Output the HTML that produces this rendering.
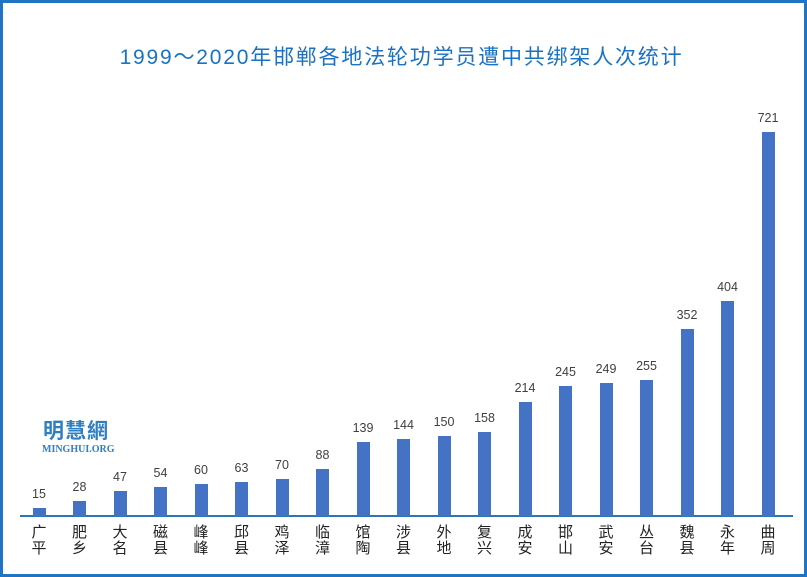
<!DOCTYPE html>
<html><head><meta charset="utf-8"><style>
body{margin:0;background:#fff}
#c{position:relative;width:801px;height:571px;border:3px solid #1f74c4;overflow:hidden;font-family:"Liberation Sans","Noto Sans CJK SC",sans-serif}
.t{position:absolute;top:38px;left:-5px;width:807px;text-align:center;font-size:21px;color:#1a72c2;letter-spacing:1.8px}
.b{position:absolute;width:13px;background:#4472c4}
.v{position:absolute;width:50px;text-align:center;font-size:12.5px;color:#404040}
.l{position:absolute;width:30px;text-align:center;font-size:15px;line-height:16px;color:#222;top:522px}
.base{position:absolute;left:17px;top:512px;width:773px;height:2px;background:#2e75b6}
</style></head><body><div id="c">
<div class="t">1999～2020年邯郸各地法轮功学员遭中共绑架人次统计</div>
<div style="position:absolute;left:40px;top:412px;font-size:21px;font-weight:bold;color:#2f7fc1;letter-spacing:1px">明慧網</div>
<div style="position:absolute;left:39px;top:441px;font-size:10px;font-weight:bold;color:#2f7fc1;font-family:'Liberation Serif',serif">MINGHUI.ORG</div>
<div class="base"></div>
<div id="bars"></div>
</div>
<script>
var d=[["广平",15],["肥乡",28],["大名",47],["磁县",54],["峰峰",60],["邱县",63],["鸡泽",70],["临漳",88],["馆陶",139],["涉县",144],["外地",150],["复兴",158],["成安",214],["邯山",245],["武安",249],["丛台",255],["魏县",352],["永年",404],["曲周",721]];
var h="";
d.forEach(function(e,i){
 var cx=36+i*40.5, ht=e[1]*0.5326, top=513-ht;
 h+='<div class="b" style="left:'+(cx-6.5)+'px;top:'+top+'px;height:'+ht+'px"></div>';
 h+='<div class="v" style="left:'+(cx-25)+'px;top:'+(top-21)+'px">'+e[1]+'</div>';
 h+='<div class="l" style="left:'+(cx-15)+'px">'+e[0][0]+'<br>'+e[0][1]+'</div>';
});
document.getElementById("bars").innerHTML=h;
</script>
</body></html>
